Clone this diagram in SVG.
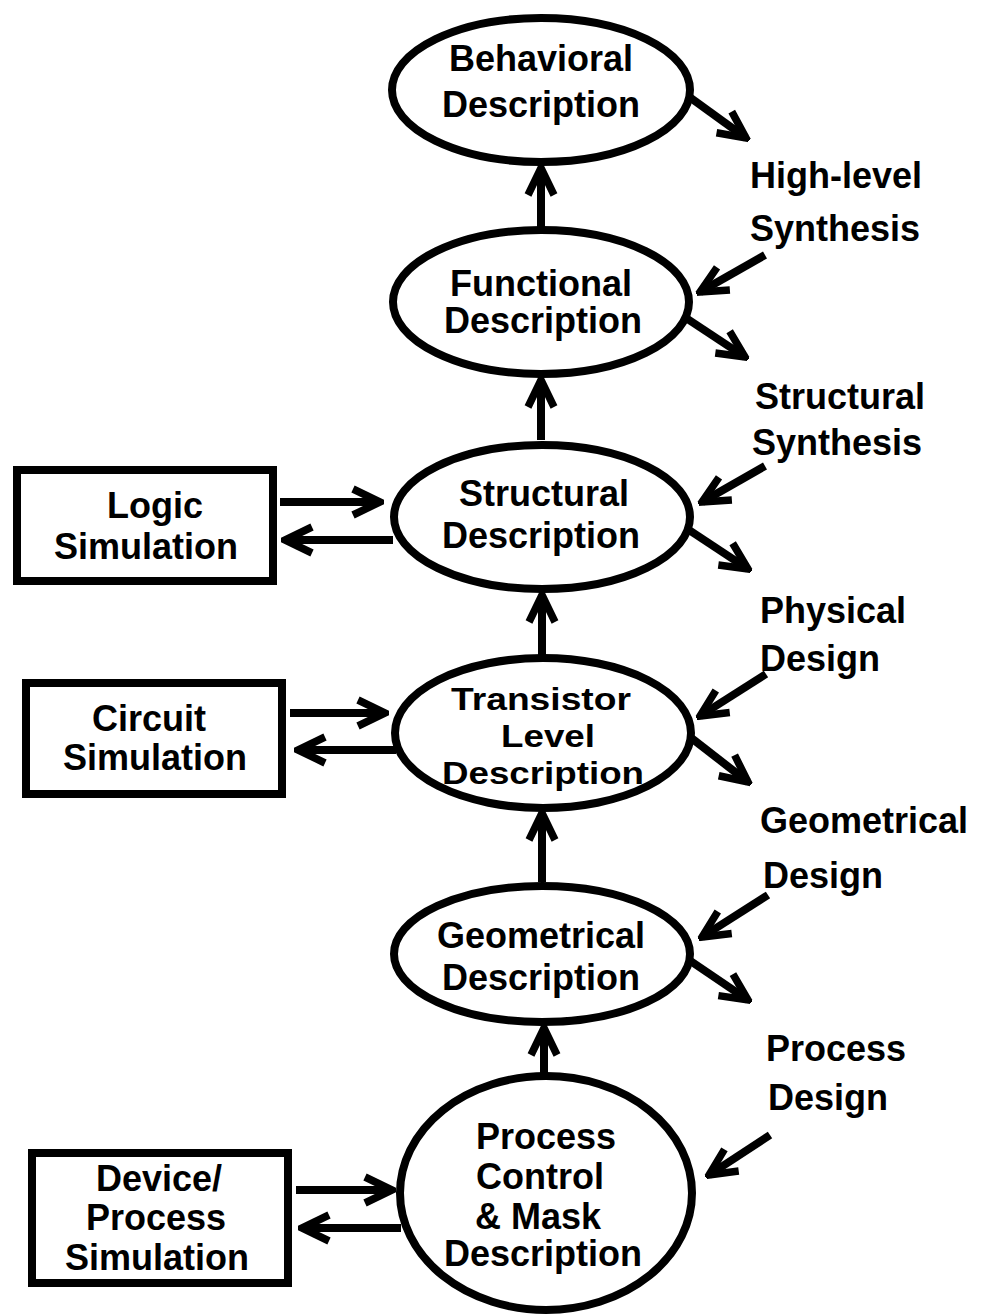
<svg xmlns="http://www.w3.org/2000/svg" width="984" height="1314" viewBox="0 0 984 1314">
<style>
.n{fill:none;stroke:#000;stroke-width:8}
text{font-family:"Liberation Sans",Arial,sans-serif;font-weight:bold;font-size:36px;fill:#000}
.c{text-anchor:middle}
.s{font-size:32px}
.a{fill:none;stroke:#000;stroke-width:8}
</style>
<defs>
<marker id="ah" markerUnits="userSpaceOnUse" viewBox="-34 -18 38 36" refX="0" refY="0" markerWidth="38" markerHeight="36" orient="auto">
<path d="M-27,-13 L0,0 L-27,13" fill="none" stroke="#000" stroke-width="7.5" stroke-linejoin="miter"/>
</marker>
</defs>
<rect width="984" height="1314" fill="#fff"/>
<g id="behavioral"><ellipse class="n" cx="541" cy="90" rx="149" ry="72"/><text class="c" x="541" y="71">Behavioral</text><text class="c" x="541" y="117">Description</text></g>
<g id="functional"><ellipse class="n" cx="541" cy="302" rx="148" ry="72"/><text class="c" x="541" y="296">Functional</text><text class="c" x="543" y="333">Description</text></g>
<g id="structural"><ellipse class="n" cx="542" cy="517" rx="148" ry="72"/><text class="c" x="544" y="506">Structural</text><text class="c" x="541" y="548">Description</text></g>
<g id="transistor"><ellipse class="n" cx="543" cy="733" rx="148" ry="75"/><text class="c s" x="541" y="710" textLength="180" lengthAdjust="spacingAndGlyphs">Transistor</text><text class="c s" x="548" y="747" textLength="94" lengthAdjust="spacingAndGlyphs">Level</text><text class="c s" x="543" y="784" textLength="202" lengthAdjust="spacingAndGlyphs">Description</text></g>
<g id="geometrical"><ellipse class="n" cx="542" cy="954" rx="148" ry="68"/><text class="c" x="541" y="948">Geometrical</text><text class="c" x="541" y="990">Description</text></g>
<g id="process"><ellipse class="n" cx="546" cy="1193" rx="146" ry="117"/><text class="c" x="546" y="1149">Process</text><text class="c" x="540" y="1189">Control</text><text class="c" x="538" y="1229">&amp; Mask</text><text class="c" x="543" y="1266">Description</text></g>
<g id="logic"><rect class="n" x="17" y="470" width="256" height="111"/><text class="c" x="155" y="518">Logic</text><text class="c" x="146" y="559">Simulation</text></g>
<g id="circuit"><rect class="n" x="26" y="683" width="256" height="111"/><text class="c" x="149" y="731">Circuit</text><text class="c" x="155" y="770">Simulation</text></g>
<g id="device"><rect class="n" x="32" y="1153" width="256" height="130"/><text class="c" x="159" y="1191">Device/</text><text class="c" x="156" y="1230">Process</text><text class="c" x="157" y="1270">Simulation</text></g>
<g id="labels">
<text x="750" y="188">High-level</text><text x="750" y="241">Synthesis</text>
<text x="755" y="409">Structural</text><text x="752" y="455">Synthesis</text>
<text x="760" y="623">Physical</text><text x="760" y="671">Design</text>
<text x="760" y="833">Geometrical</text><text x="763" y="888">Design</text>
<text x="766" y="1061">Process</text><text x="768" y="1110">Design</text>
</g>
<g id="connectors">
<line class="a" x1="541" y1="228" x2="541" y2="168" marker-end="url(#ah)"/>
<line class="a" x1="541" y1="440" x2="541" y2="380" marker-end="url(#ah)"/>
<line class="a" x1="542" y1="656" x2="542" y2="595" marker-end="url(#ah)"/>
<line class="a" x1="542" y1="882" x2="542" y2="813" marker-end="url(#ah)"/>
<line class="a" x1="544" y1="1074" x2="544" y2="1028" marker-end="url(#ah)"/>
<line class="a" x1="688" y1="96" x2="746" y2="138" marker-end="url(#ah)"/>
<line class="a" x1="765" y1="255" x2="700" y2="292" marker-end="url(#ah)"/>
<line class="a" x1="686" y1="318" x2="745" y2="357" marker-end="url(#ah)"/>
<line class="a" x1="765" y1="466" x2="702" y2="502" marker-end="url(#ah)"/>
<line class="a" x1="689" y1="530" x2="748" y2="569" marker-end="url(#ah)"/>
<line class="a" x1="766" y1="674" x2="700" y2="716" marker-end="url(#ah)"/>
<line class="a" x1="690" y1="737" x2="748" y2="782" marker-end="url(#ah)"/>
<line class="a" x1="768" y1="895" x2="702" y2="937" marker-end="url(#ah)"/>
<line class="a" x1="689" y1="960" x2="748" y2="1000" marker-end="url(#ah)"/>
<line class="a" x1="770" y1="1135" x2="709" y2="1175" marker-end="url(#ah)"/>
<line class="a" x1="280" y1="502" x2="380" y2="502" marker-end="url(#ah)"/>
<line class="a" x1="393" y1="540" x2="285" y2="540" marker-end="url(#ah)"/>
<line class="a" x1="290" y1="713" x2="385" y2="713" marker-end="url(#ah)"/>
<line class="a" x1="396" y1="750" x2="298" y2="750" marker-end="url(#ah)"/>
<line class="a" x1="296" y1="1190" x2="392" y2="1190" marker-end="url(#ah)"/>
<line class="a" x1="401" y1="1228" x2="302" y2="1228" marker-end="url(#ah)"/>
</g>
</svg>
